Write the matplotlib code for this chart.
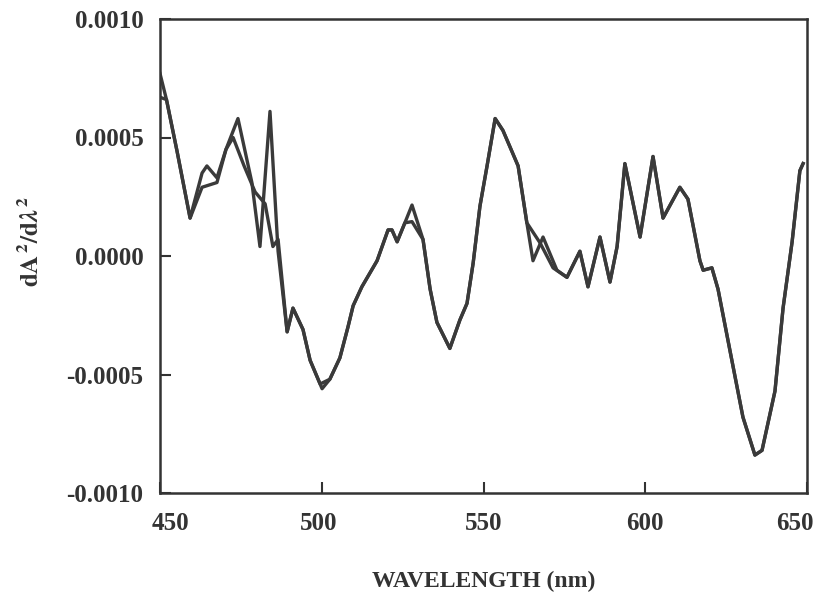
import numpy as np
import matplotlib as mpl
mpl.use("Agg")
from matplotlib import pyplot as plt
from matplotlib import transforms

# Fonts, close to the Times look of the scanned figure
mpl.rc('font', family='Liberation Serif', weight='bold')
mpl.rc('axes', unicode_minus=False)
mpl.rc('mathtext', fontset='stix')

# Second derivative spectra (two overlaid runs)
wl_1 = [450.0, 452.0, 455.3, 459.3, 463.0, 464.5, 467.6, 470.4, 474.1, 478.4,
        480.9, 484.0, 486.5, 489.3, 491.1, 494.2, 496.4, 500.1, 502.5, 505.6,
        508.1, 509.7, 512.4, 517.1, 520.5, 521.7, 523.3, 525.7, 527.9, 531.3,
        533.5, 535.6, 539.6, 542.7, 544.9, 546.8, 548.9, 551.1, 553.6, 556.0,
        558.2, 560.7, 563.4, 565.3, 568.4, 572.7, 575.8, 579.8, 582.3, 586.0,
        589.1, 591.3, 593.7, 598.4, 602.4, 605.5, 610.7, 613.2, 616.9, 617.9,
        620.6, 622.5, 626.2, 630.2, 633.9, 636.1, 640.1, 642.6, 645.4, 647.8,
        648.8]
d2_1 = [0.00077, 0.00066, 0.00044, 0.00016, 0.00035, 0.00038, 0.00033, 0.00045, 0.00058, 0.00031,
        0.00004, 0.00061, 0.00002, -0.00032, -0.00022, -0.00031, -0.00044, -0.00056, -0.00052, -0.00043,
        -0.00030, -0.00021, -0.00013, -0.00002, 0.00011, 0.00011, 0.00006, 0.00014, 0.000215, 0.00007,
        -0.00014, -0.00028, -0.00039, -0.00027, -0.00020, -0.00003, 0.00021, 0.00038, 0.00058, 0.00053,
        0.00046, 0.00038, 0.00014, -0.00002, 0.00008, -0.00006, -0.00009, 0.00002, -0.00013, 0.00008,
        -0.00011, 0.00004, 0.00039, 0.00008, 0.00042, 0.00016, 0.00029, 0.00024, -0.00002, -0.00006,
        -0.00005, -0.00014, -0.00040, -0.00068, -0.00084, -0.00082, -0.00057, -0.00022, 0.00006, 0.00036,
        0.00039]

wl_2 = [450.0, 452.0, 455.3, 459.3, 463.0, 467.6, 470.4, 472.6, 476.0, 479.4,
        482.5, 484.9, 486.5, 489.3, 491.1, 494.2, 496.4, 499.5, 502.5, 505.6,
        508.1, 509.7, 512.4, 517.1, 520.5, 521.7, 523.3, 525.7, 527.9, 531.3,
        533.5, 535.6, 539.6, 542.7, 544.9, 546.8, 548.9, 551.1, 553.6, 556.0,
        558.2, 560.7, 563.4, 567.5, 571.5, 575.8, 579.8, 582.3, 586.0, 589.1,
        591.3, 593.7, 598.4, 602.4, 605.5, 610.7, 613.2, 616.9, 617.9, 620.6,
        622.5, 626.2, 630.2, 633.9, 636.1, 640.1, 642.6, 645.4, 647.8, 648.8]
d2_2 = [0.00067, 0.00066, 0.00044, 0.00016, 0.00029, 0.00031, 0.00045, 0.00050, 0.00038, 0.00027,
        0.00022, 0.00004, 0.00007, -0.00032, -0.00022, -0.00031, -0.00044, -0.00054, -0.00052, -0.00043,
        -0.00030, -0.00021, -0.00013, -0.00002, 0.00011, 0.00011, 0.00006, 0.00014, 0.000145, 0.00007,
        -0.00014, -0.00028, -0.00039, -0.00027, -0.00020, -0.00003, 0.00021, 0.00038, 0.00058, 0.00053,
        0.00046, 0.00038, 0.00014, 0.000055, -0.00005, -0.00009, 0.00002, -0.00013, 0.00008, -0.00011,
        0.00004, 0.00039, 0.00008, 0.00042, 0.00016, 0.00029, 0.00024, -0.00002, -0.00006, -0.00005,
        -0.00014, -0.00040, -0.00068, -0.00084, -0.00082, -0.00057, -0.00022, 0.00006, 0.00036, 0.00039]

x_ticks = [450, 500, 550, 600, 650]
y_ticks = [-0.0010, -0.0005, 0.0000, 0.0005, 0.0010]

line_col = '#3a3a3a'

fig = plt.figure(figsize=(8.24, 6.0), dpi=100)
ax = fig.add_axes([160 / 824, 1 - 493 / 600, 647 / 824, 474 / 600])

ax.plot(wl_1, d2_1, color=line_col, linewidth=2.4, solid_joinstyle='round')
ax.plot(wl_2, d2_2, color=line_col, linewidth=2.4, solid_joinstyle='round')

ax.set_xlim(450, 650)
ax.set_ylim(-0.001, 0.001)
ax.set_xticks(x_ticks)
ax.set_yticks(y_ticks)
ax.set_yticklabels([f"{v:.4f}" for v in y_ticks])
ax.tick_params(direction='in', length=8, width=1.5, colors='#333333',
               labelsize=18, top=False, right=False)
ax.tick_params(axis='y', pad=12)
ax.tick_params(axis='x', pad=14)
for spine in ax.spines.values():
    spine.set_linewidth(1.8)
    spine.set_color('#333333')

# The scanned axis puts the end labels a little inside the frame
xlabels = ax.get_xticklabels()
shifts = [10, -3, 0, 0, -12]
for lab, dx in zip(xlabels, shifts):
    lab.set_transform(lab.get_transform() + transforms.ScaledTranslation(dx / 100, 0, fig.dpi_scale_trans))

ax.set_xlabel("WAVELENGTH (nm)", fontsize=17, fontweight='bold', color='#333333')
ax.xaxis.set_label_coords(0.5, -0.165)
ax.set_ylabel(r"$\mathrm{dA}^{\,2}/\mathrm{d}\lambda^{2}$", fontsize=18, color='#333333')
ax.yaxis.set_label_coords(-0.18, 0.53)

fig.savefig("out.png", dpi=100)
